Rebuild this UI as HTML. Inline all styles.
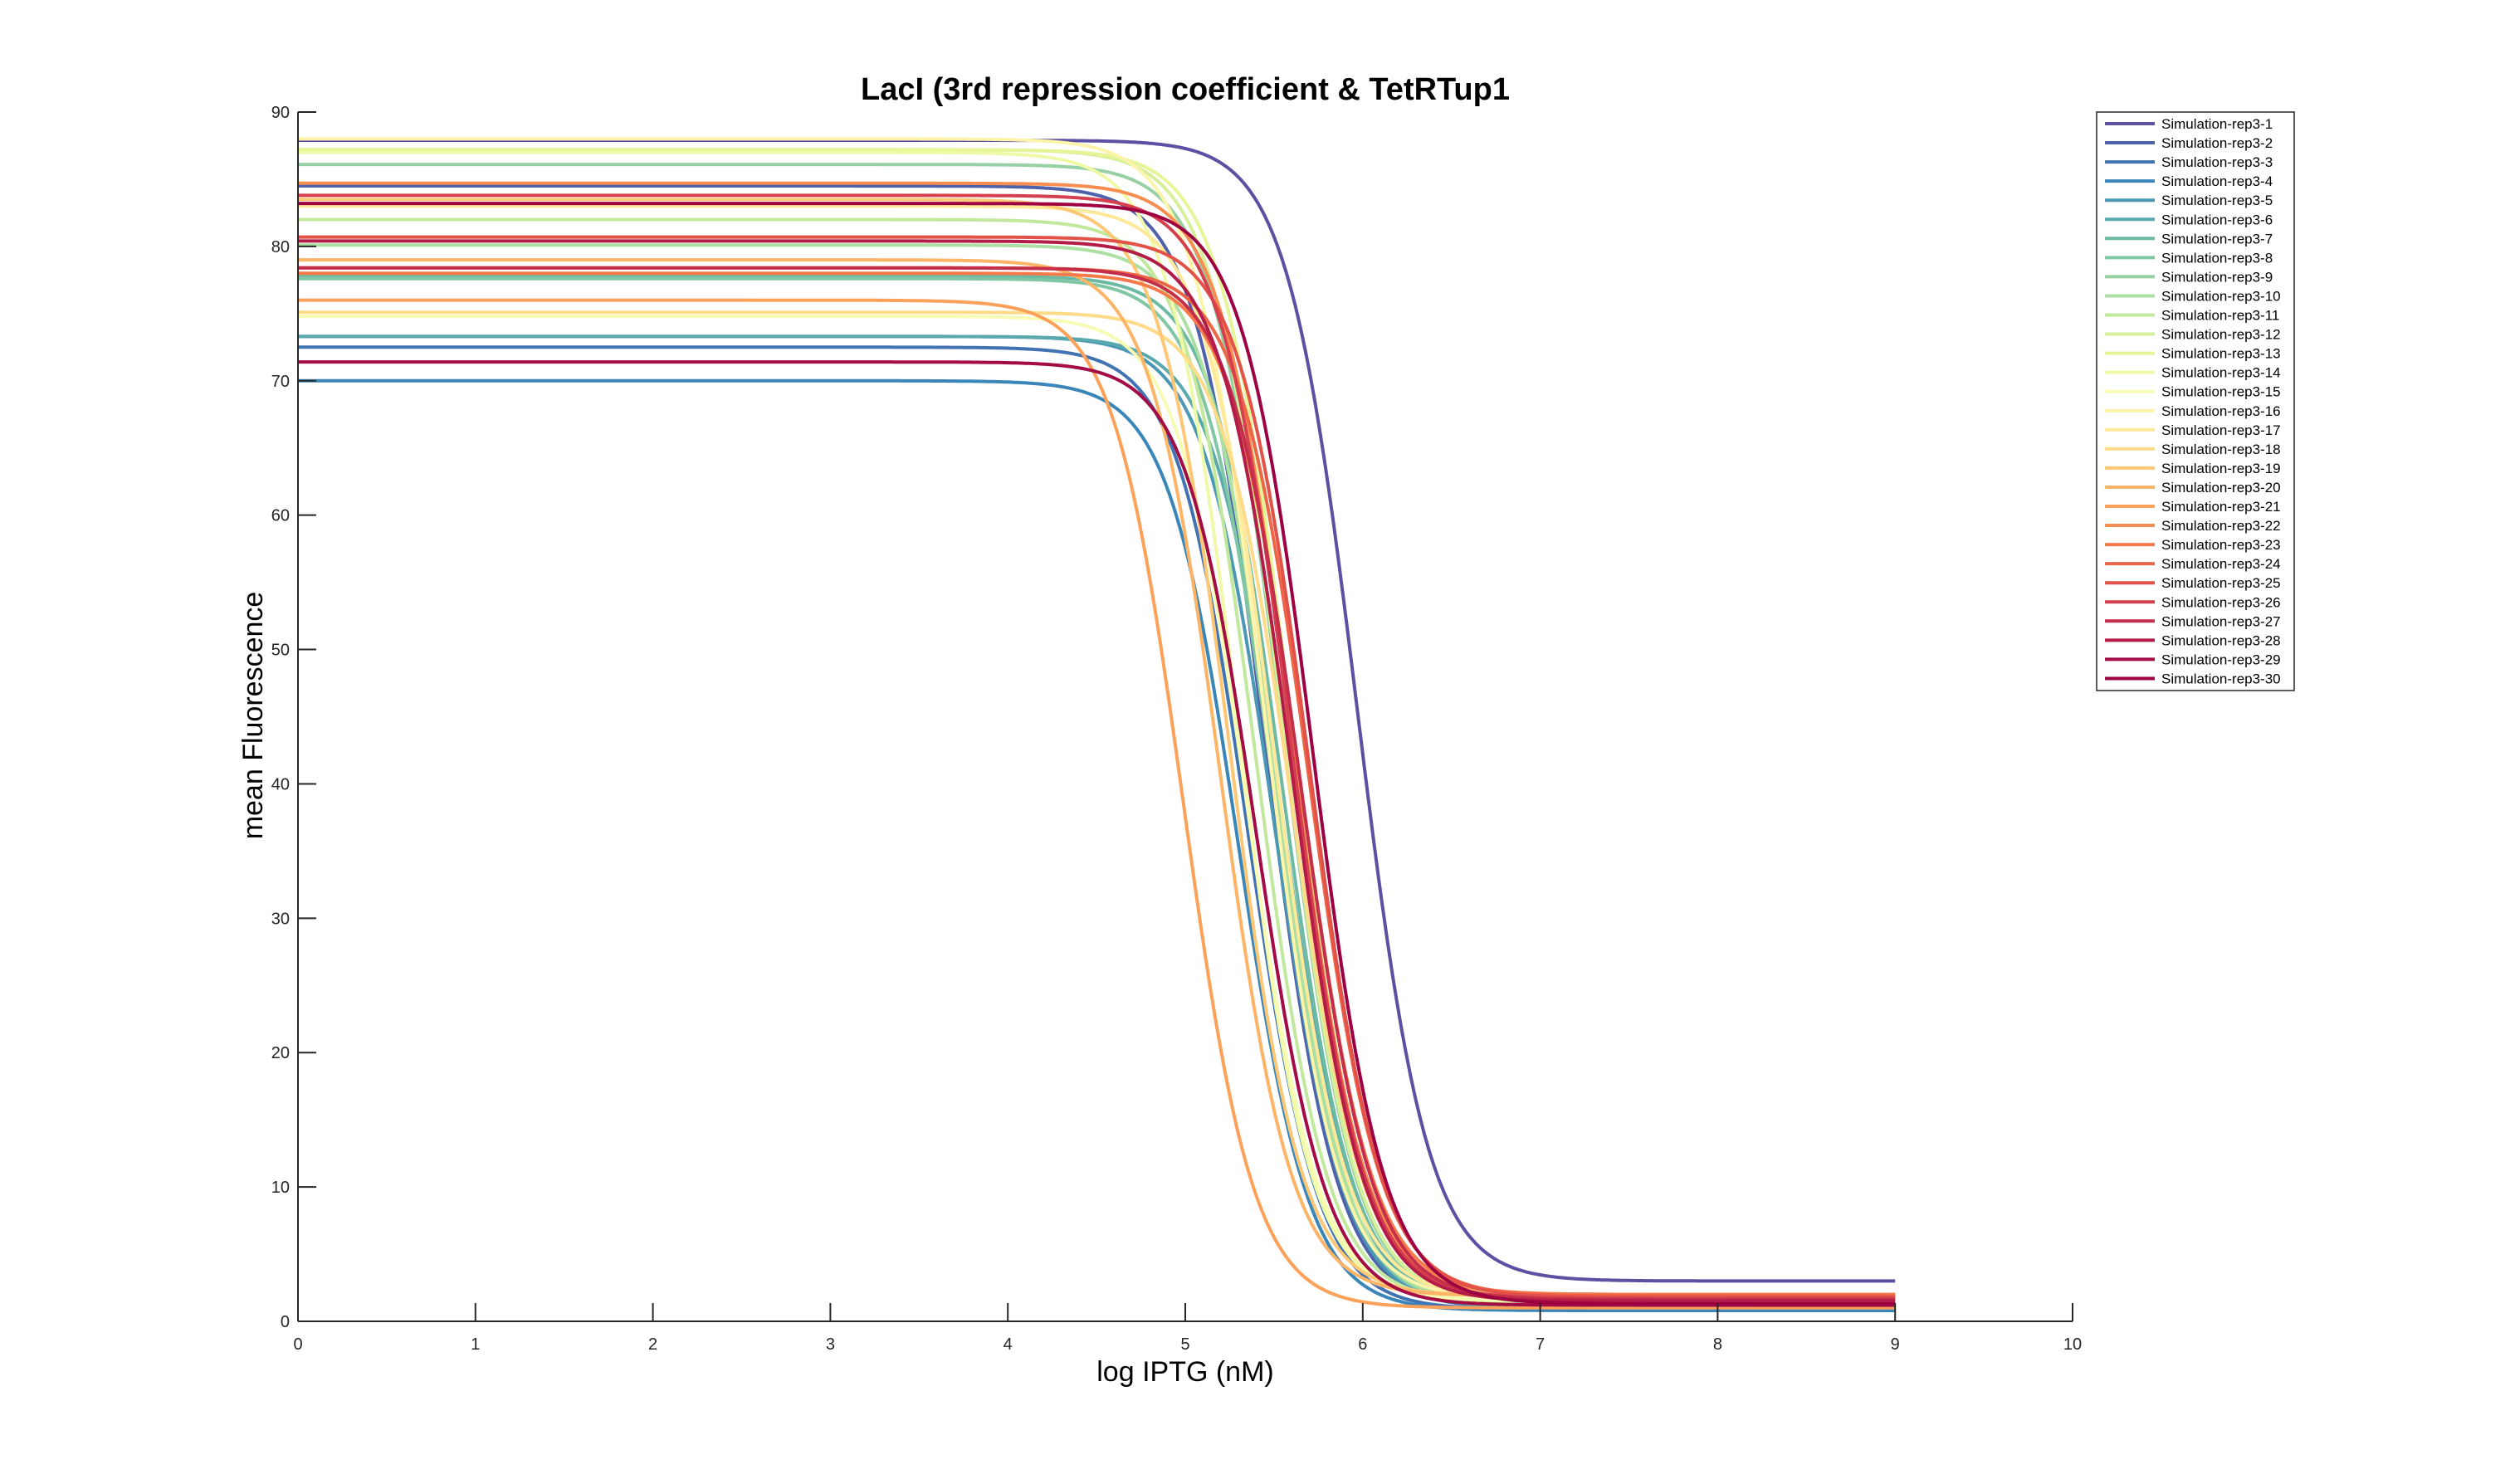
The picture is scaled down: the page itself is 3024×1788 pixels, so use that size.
<!DOCTYPE html>
<html><head><meta charset="utf-8">
<style>
body{margin:0;background:#fff;}
svg{display:block;font-family:"Liberation Sans",Arial,sans-serif;}
</style></head>
<body>
<svg id="chart" width="3024" height="1788" viewBox="0 0 3024 1788" xmlns="http://www.w3.org/2000/svg">
<rect width="3024" height="1788" fill="#fff"/>
<text x="1428" y="120" text-anchor="middle" font-size="38" font-weight="bold">LacI (3rd repression coefficient &amp; TetRTup1</text>
<text transform="translate(316,862) rotate(-90)" text-anchor="middle" font-size="34">mean Fluorescence</text>
<text x="1428" y="1664" text-anchor="middle" font-size="34">log IPTG (nM)</text>
<g id="series"></g>
<g id="axes"></g>
<g id="legend"></g>
</svg>
<script>
const seriesNames = Array.from({length:30},(_, i)=>'Simulation-rep3-'+(i+1));
const topValues =    [87.9,84.5,72.5,70.0,73.3,73.3,77.8,77.6,86.1,80.1,82.0,87.2,87.2,87.0,74.8,88.0,83.0,75.1,83.5,79.0,76.0,84.7,78.0,78.4,80.7,83.8,78.4,80.4,71.4,83.2];
const midValues =    [5.97,5.45,5.35,5.3,5.5,5.55,5.55,5.5,5.55,5.5,5.4,5.55,5.6,5.3,5.35,5.45,5.5,5.6,5.25,5.2,4.99,5.6,5.65,5.7,5.7,5.6,5.65,5.6,5.4,5.72];
const bottomValues = [3.0,1.0,0.9,0.8,1.0,1.1,1.2,1.2,1.3,1.3,1.4,1.5,1.5,1.5,1.6,1.7,1.8,1.9,1.9,1.9,1.0,2.0,2.0,1.9,1.8,1.7,1.6,1.5,1.2,1.3];
const hillValues =   [2.2,2.2,2.2,2.2,2.2,2.2,2.2,2.2,2.2,2.2,2.2,2.2,2.2,2.2,2.2,2.2,2.2,2.2,2.2,2.2,2.2,2.2,2.2,2.2,2.2,2.2,2.2,2.2,2.2,2.2];
const xTicks = [0,1,2,3,4,5,6,7,8,9,10];
const yTicks = [0,10,20,30,40,50,60,70,80,90];
const colors = ["#5e4fa2","#4f61aa","#4173b3","#3b86b9","#4b98b4","#5aaaad","#6dbaa4","#81c6a5","#97d0a4","#ace0a2","#c2e89e","#d6ef9b","#e6f598","#f0f9a8","#f7fbb4","#fdf4ab","#fee99a","#fedb88","#fdc776","#fdb466","#fca15a","#f88d52","#f67a49","#ed6647","#e25249","#d6404e","#c52e4b","#b31c47","#a30c45","#9e0142"];
const X0=359, X1=2497, Y0=1592, Y90=135;
const xs = v => X0 + (X1-X0)*v/10;
const ys = v => Y0 - (Y0-Y90)*v/90;
const NS='http://www.w3.org/2000/svg';
const sg=document.getElementById('series');
for(let i=0;i<30;i++){
  let d='';
  for(let k=0;k<=900;k++){
    const x=k/100;
    const y=bottomValues[i]+(topValues[i]-bottomValues[i])/(1+Math.pow(10,hillValues[i]*(x-midValues[i])));
    d+=(k?'L':'M')+xs(x).toFixed(1)+','+ys(y).toFixed(1);
  }
  const p=document.createElementNS(NS,'path');
  p.setAttribute('d',d);p.setAttribute('fill','none');p.setAttribute('stroke',colors[i]);p.setAttribute('stroke-width','4');
  
  
  sg.appendChild(p);
}
const ag=document.getElementById('axes');
function add(parent,tag,attrs,text){const e=document.createElementNS(NS,tag);for(const k in attrs)e.setAttribute(k,attrs[k]);if(text!==undefined)e.textContent=text;parent.appendChild(e);return e;}
let e=add(ag,'line',{x1:X0,y1:Y0,x2:X1,y2:Y0,stroke:'#262626','stroke-width':2});


e=add(ag,'line',{x1:X0,y1:Y0,x2:X0,y2:Y90,stroke:'#262626','stroke-width':2});


xTicks.forEach(t=>{
  let l=add(ag,'line',{x1:xs(t),y1:Y0,x2:xs(t),y2:Y0-22,stroke:'#262626','stroke-width':2});
  
  
  let tx=add(ag,'text',{x:xs(t),y:Y0+34,'text-anchor':'middle','font-size':20,fill:'#262626'},String(t));
  
  
});
yTicks.forEach(t=>{
  let l=add(ag,'line',{x1:X0,y1:ys(t),x2:X0+22,y2:ys(t),stroke:'#262626','stroke-width':2});
  
  
  let tx=add(ag,'text',{x:X0-10,y:ys(t)+7,'text-anchor':'end','font-size':20,fill:'#262626'},String(t));
  
  
});
const lg=document.getElementById('legend');
e=add(lg,'rect',{x:2526,y:135,width:238,height:697,fill:'#fff',stroke:'#262626','stroke-width':1.5});


for(let i=0;i<30;i++){
  const y=149+i*23.05;
  const g=add(lg,'g',{});
  
  
  add(g,'line',{x1:2536,y1:y,x2:2596,y2:y,stroke:colors[i],'stroke-width':4});
  add(g,'text',{x:2604,y:y+6,'font-size':17,fill:'#000'},seriesNames[i]);
}
</script>
</body></html>
